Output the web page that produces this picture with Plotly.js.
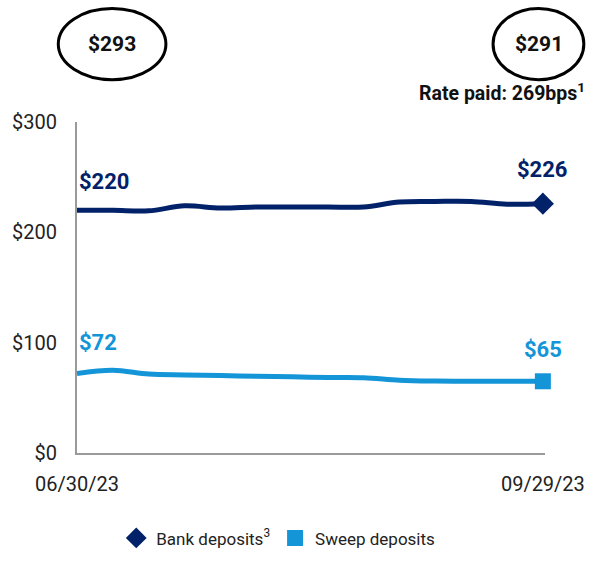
<!DOCTYPE html>
<html>
<head>
<meta charset="utf-8">
<script src="https://cdn.plot.ly/plotly-3.0.1.min.js"></script>
<style>
html,body{margin:0;padding:0;background:#fff;}
#chart{width:595px;height:568px;}
</style>
</head>
<body>
<div id="chart"></div>
<script>
// ---- data ----
const dates = ['2023-06-30','2023-07-07','2023-07-14','2023-07-21','2023-07-28','2023-08-04','2023-08-11',
               '2023-08-18','2023-08-25','2023-09-01','2023-09-08','2023-09-15','2023-09-22','2023-09-29'];
const bankDeposits  = [220, 220, 219.5, 224, 222, 223, 223, 223, 223, 227.5, 228, 228, 225.5, 226];
const sweepDeposits = [72, 75, 71.5, 70.8, 70.2, 69.5, 69, 68.5, 68.3, 66, 65.2, 65, 65, 65];
const totals = [293, 291];
const ratePaid = 269;
const xTickLabels = ['06/30/23', '09/29/23'];
const yTickVals = [0, 100, 200, 300];
const yTickLabels = ['$0', '$100', '$200', '$300'];
const seriesNames = ['Bank deposits<sup>3</sup>', 'Sweep deposits'];

const NAVY = '#012169';
const LIGHT = '#1495d8';
const FONT = 'Roboto, "Liberation Sans", sans-serif';
const last = dates.length - 1;

const traces = [
  {x: dates, y: bankDeposits, mode: 'lines', line: {color: NAVY, width: 5, shape: 'spline', smoothing: 1},
   showlegend: false, hoverinfo: 'skip', cliponaxis: false},
  {x: dates, y: sweepDeposits, mode: 'lines', line: {color: LIGHT, width: 5, shape: 'spline', smoothing: 1},
   showlegend: false, hoverinfo: 'skip', cliponaxis: false},
  {x: [dates[last]], y: [bankDeposits[last]], mode: 'markers', name: seriesNames[0],
   marker: {symbol: 'diamond', size: 17, color: NAVY}, cliponaxis: false},
  {x: [dates[last]], y: [sweepDeposits[last]], mode: 'markers', name: seriesNames[1],
   marker: {symbol: 'square', size: 16, color: LIGHT}, cliponaxis: false}
];

function lbl(x, y, txt, color, xanchor, yshift) {
  return {x: x, y: y, xref: 'x', yref: 'y', text: txt, showarrow: false,
          xanchor: xanchor, yanchor: 'bottom', yshift: yshift,
          font: {family: FONT, size: 22, color: color}};
}

const annotations = [
  lbl(dates[0], bankDeposits[0], '<b>$' + Math.round(bankDeposits[0]) + '</b>', NAVY, 'left', 14),
  lbl(dates[last], bankDeposits[last], '<b>$' + Math.round(bankDeposits[last]) + '</b>', NAVY, 'center', 20),
  lbl(dates[0], sweepDeposits[0], '<b>$' + Math.round(sweepDeposits[0]) + '</b>', LIGHT, 'left', 17),
  lbl(dates[last], sweepDeposits[last], '<b>$' + Math.round(sweepDeposits[last]) + '</b>', LIGHT, 'center', 17),
  {x: 0, y: 1.235, xref: 'paper', yref: 'paper', text: '<b>$' + totals[0] + '</b>', showarrow: false,
   xshift: 35, font: {family: FONT, size: 21, color: '#111'}, xanchor: 'center', yanchor: 'middle'},
  {x: 1, y: 1.235, xref: 'paper', yref: 'paper', text: '<b>$' + totals[1] + '</b>', showarrow: false,
   xshift: -6, font: {family: FONT, size: 21, color: '#111'}, xanchor: 'center', yanchor: 'middle'},
  {x: 1, y: 1.045, xref: 'paper', yref: 'paper', text: '<b>Rate paid: ' + ratePaid + 'bps<sup>1</sup></b>',
   showarrow: false, xanchor: 'right', yanchor: 'bottom', xshift: 42,
   font: {family: FONT, size: 19.5, color: '#111'}}
];

const shapes = [
  {type: 'circle', xref: 'paper', yref: 'paper', x0: -0.04, x1: 0.19, y0: 1.128, y1: 1.343,
   line: {color: '#000', width: 3}},
  {type: 'circle', xref: 'paper', yref: 'paper', x0: 0.889, x1: 1.083, y0: 1.128, y1: 1.343,
   line: {color: '#000', width: 3}}
];

const layout = {
  width: 595, height: 568,
  margin: {l: 77, r: 50, t: 122, b: 105},
  paper_bgcolor: '#fff', plot_bgcolor: '#fff',
  font: {family: FONT, size: 19, color: '#222'},
  xaxis: {type: 'date', range: ['2023-06-30', '2023-09-29 10:00'],
          tickvals: [dates[0], dates[last]], ticktext: xTickLabels,
          showgrid: false, zeroline: false, showline: true, linecolor: '#9a9a9a', linewidth: 2,
          ticks: '', ticklabelstandoff: 12, tickfont: {family: FONT, size: 20, color: '#222'},
          fixedrange: true},
  yaxis: {range: [0, 300], tickvals: yTickVals, ticktext: yTickLabels,
          showgrid: false, zeroline: false, showline: true, linecolor: '#9a9a9a', linewidth: 2,
          ticks: '', ticklabelstandoff: 14, tickfont: {family: FONT, size: 20, color: '#222'},
          fixedrange: true},
  showlegend: true,
  legend: {orientation: 'h', x: 0.43, xanchor: 'center', y: -0.258, yanchor: 'middle',
           font: {family: FONT, size: 17, color: '#222'}, itemwidth: 30, tracegroupgap: 0},
  annotations: annotations,
  shapes: shapes
};

Plotly.newPlot('chart', traces, layout, {displayModeBar: false, staticPlot: true});
</script>
</body>
</html>
